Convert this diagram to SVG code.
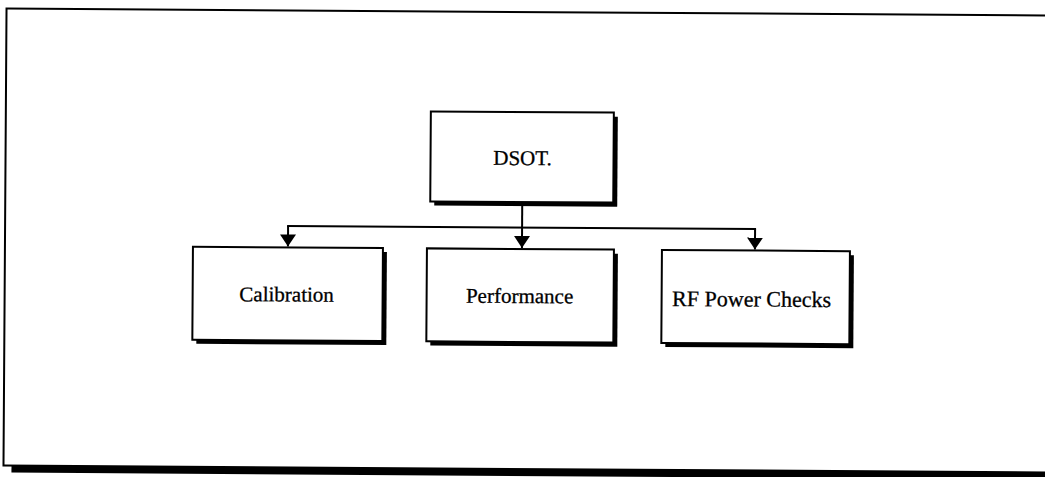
<svg xmlns="http://www.w3.org/2000/svg" width="1045" height="477" viewBox="0 0 1045 477">
<defs>
<style>
.box{fill:#fff;stroke:#000;stroke-width:2}
.shadow{fill:#000}
.lbl{font-family:"Liberation Serif","Times New Roman",serif;font-size:21px;fill:#000;stroke:#000;stroke-width:0.3;text-anchor:middle}
.conn{fill:none;stroke:#000;stroke-width:2}
</style>
<marker id="arr" viewBox="0 0 12 16" refX="12" refY="8" markerWidth="12" markerHeight="16" markerUnits="userSpaceOnUse" orient="auto">
<path d="M0,0 L12,8 L0,16 Z" fill="#000"/>
</marker>
</defs>
<rect width="1045" height="477" fill="#fff"/>
<g transform="rotate(0.38 522 240)">
<g id="frame">
<rect class="shadow" x="13" y="469" width="1060" height="7"/>
<rect x="5" y="12" width="1060" height="457" fill="none" stroke="#000" stroke-width="2"/>
</g>
<g id="connectors">
<line class="conn" x1="522" y1="202" x2="522" y2="227.5"/>
<line class="conn" x1="287" y1="227.5" x2="756" y2="227.5"/>
<line class="conn" x1="288" y1="227.5" x2="288" y2="248" marker-end="url(#arr)"/>
<line class="conn" x1="522" y1="227.5" x2="522" y2="248" marker-end="url(#arr)"/>
<line class="conn" x1="755" y1="227.5" x2="755" y2="248" marker-end="url(#arr)"/>
</g>
<g id="dsot">
<rect class="shadow" x="434" y="116" width="183" height="90"/>
<rect class="box" x="430" y="112" width="183" height="90"/>
<text class="lbl" x="522" y="165">DSOT.</text>
</g>
<g id="calibration">
<rect class="shadow" x="197" y="253" width="190" height="93"/>
<rect class="box" x="193" y="249" width="190" height="93"/>
<text class="lbl" x="287" y="303">Calibration</text>
</g>
<g id="performance">
<rect class="shadow" x="431" y="253" width="187" height="93"/>
<rect class="box" x="427" y="249" width="187" height="93"/>
<text class="lbl" x="520" y="303">Performance</text>
</g>
<g id="rf">
<rect class="shadow" x="666" y="253" width="188" height="93"/>
<rect class="box" x="662" y="249" width="188" height="93"/>
<text class="lbl" x="752" y="305" style="font-size:22px">RF Power Checks</text>
</g>
</g>
</svg>
